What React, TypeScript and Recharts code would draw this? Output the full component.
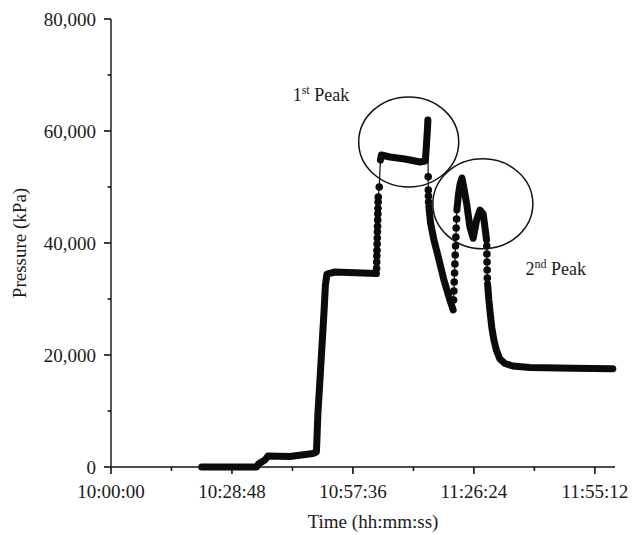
import React from 'react';
import { ComposedChart, Line, XAxis, YAxis, ReferenceDot, Label } from 'recharts';

const FONT = '"Liberation Serif", "Times New Roman", serif';
const INK = '#0b0b0b';

// time: seconds after 10:00:00, pressure: kPa
// dense (continuous) parts of the record
const riseT = [1295, 2081, 2106, 2199, 2242, 2556, 2885, 2935, 2956, 2985, 3013, 3042, 3063, 3085, 3199, 3792];
const riseP = [0, 0, 540, 1250, 1960, 1880, 2410, 2680, 9640, 15540, 21430, 27500, 32500, 34460, 34820, 34550];

const peak1T = [3849, 3863, 3985, 4199, 4413, 4491, 4506, 4520, 4527];
const peak1P = [54820, 55710, 55360, 55000, 54460, 54640, 57500, 60180, 61960];

const decayT = [4541, 4566, 4613, 4674, 4756, 4841, 4888];
const decayP = [46430, 43520, 40540, 37550, 33390, 29820, 28040];

const peak2T = [4941, 4963, 4984, 5013, 5041, 5080, 5127, 5174, 5223, 5270, 5317, 5341, 5365];
const peak2P = [45890, 48570, 50360, 51610, 49820, 47090, 42910, 40840, 44110, 45890, 45180, 42910, 40540];

const tailT = [5380, 5398, 5420, 5441, 5470, 5505, 5555, 5627, 5741, 5984, 6598, 7169];
const tailP = [32680, 29820, 27140, 24820, 22680, 20890, 19290, 18480, 18040, 17770, 17620, 17560];

// sparse (separate markers) parts of the record
const dotsAT = [3794, 3796, 3798, 3800, 3802, 3804, 3806, 3808, 3810, 3812, 3814, 3816, 3818, 3832];
const dotsAP = [35500, 36600, 37700, 38700, 39800, 40900, 42000, 43000, 44100, 45200, 46200, 47300, 48200, 50000];

const dotsBT = [4531, 4533, 4535, 4537];
const dotsBP = [51840, 49460, 48390, 47320];

const dotsCT = [4894, 4898, 4903, 4908, 4913, 4917, 4922, 4927, 4931, 4937];
const dotsCP = [29820, 31430, 33040, 34640, 36250, 37860, 39460, 41070, 42680, 44290];

const dotsDT = [5368, 5370, 5372, 5374, 5376];
const dotsDP = [39460, 38040, 36610, 35180, 33750];

const xTicks = [0, 864, 1728, 2592, 3456, 4320, 5184, 6048, 6912];
const xMajor = [0, 1728, 3456, 5184, 6912];
const xTickLabels = ['10:00:00', '10:28:48', '10:57:36', '11:26:24', '11:55:12'];

const yTicks = [0, 10000, 20000, 30000, 40000, 50000, 60000, 70000, 80000];
const yMajor = [0, 20000, 40000, 60000, 80000];
const yTickLabels = ['0', '20,000', '40,000', '60,000', '80,000'];

const rows = (ts: number[], ps: number[]) => ts.map((t, i) => ({ t, p: ps[i] }));

const riseRows = rows(riseT, riseP);
const peak1Rows = rows(peak1T, peak1P);
const decayRows = rows(decayT, decayP);
const peak2Rows = rows(peak2T, peak2P);
const tailRows = rows(tailT, tailP);
const dotsARows = rows(dotsAT, dotsAP);
const dotsBRows = rows(dotsBT, dotsBP);
const dotsCRows = rows(dotsCT, dotsCP);
const dotsDRows = rows(dotsDT, dotsDP);

const traceRows = [
  ...riseRows, ...dotsARows, ...peak1Rows, ...dotsBRows, ...decayRows,
  ...dotsCRows, ...peak2Rows, ...dotsDRows, ...tailRows,
];

const XTick = (props: any) => {
  const { x, y, payload } = props;
  const idx = xMajor.indexOf(payload.value);
  const major = idx >= 0;
  return (
    <g>
      <line x1={x} x2={x} y1={y} y2={y + (major ? 7 : 4)} stroke="#111" strokeWidth={1.6} />
      {major && (
        <text x={x} y={y + 31} textAnchor="middle" fontSize={19} fontFamily={FONT} fill="#1a1a1a">
          {xTickLabels[idx]}
        </text>
      )}
    </g>
  );
};

const YTick = (props: any) => {
  const { x, y, payload } = props;
  const idx = yMajor.indexOf(payload.value);
  const major = idx >= 0;
  return (
    <g>
      <line x1={x - (major ? 7 : 3.5)} x2={x} y1={y} y2={y} stroke="#111" strokeWidth={1.6} />
      {major && (
        <text x={x - 15} y={y + 6.5} textAnchor="end" fontSize={19} fontFamily={FONT} fill="#1a1a1a">
          {yTickLabels[idx]}
        </text>
      )}
    </g>
  );
};

const ellipseShape = (props: any) => (
  <ellipse cx={props.cx} cy={props.cy} rx={50} ry={45} fill="none" stroke="#111" strokeWidth={1.5} />
);

const peakText = (main: string, sup: string) => (props: any) => (
  <text x={props.cx} y={props.cy} textAnchor="middle" fontSize={18} fontFamily={FONT} fill="#1a1a1a">
    {main}
    <tspan dy={-7} fontSize={12}>{sup}</tspan>
    <tspan dy={7}> Peak</tspan>
  </text>
);

const dotStyle = { r: 3.8, fill: INK, stroke: 'none' };

export default function App() {
  return (
    <div style={{ position: 'absolute', left: 0, top: 0, background: '#fff' }}>
      <ComposedChart width={642} height={535} data={traceRows} margin={{ top: 19, right: 27, bottom: 0, left: 0 }}>
        <XAxis
          type="number"
          dataKey="t"
          domain={[0, 7200]}
          ticks={xTicks}
          interval={0}
          height={68}
          tick={<XTick />}
          tickLine={false}
          tickSize={0}
          tickMargin={0}
          axisLine={{ stroke: '#111', strokeWidth: 1.6 }}
        >
          <Label
            content={() => (
              <text x={373} y={528} textAnchor="middle" fontSize={19} fontFamily={FONT} fill="#1a1a1a">
                Time (hh:mm:ss)
              </text>
            )}
          />
        </XAxis>
        <YAxis
          type="number"
          dataKey="p"
          domain={[0, 80000]}
          ticks={yTicks}
          interval={0}
          width={111}
          tick={<YTick />}
          tickLine={false}
          tickSize={0}
          tickMargin={0}
          axisLine={{ stroke: '#444', strokeWidth: 1.8 }}
        >
          <Label
            content={() => (
              <text
                x={26}
                y={243}
                transform="rotate(-90 26 243)"
                textAnchor="middle"
                fontSize={19}
                fontFamily={FONT}
                fill="#1a1a1a"
              >
                Pressure (kPa)
              </text>
            )}
          />
        </YAxis>

        <Line data={traceRows} dataKey="p" type="linear" stroke={INK} strokeWidth={1.2} dot={false} activeDot={false} isAnimationActive={false} />
        {[riseRows, peak1Rows, decayRows, peak2Rows, tailRows].map((d, i) => (
          <Line
            key={'dense' + i}
            data={d}
            dataKey="p"
            type="linear"
            stroke={INK}
            strokeWidth={7}
            strokeLinejoin="round"
            strokeLinecap="round"
            dot={false}
            activeDot={false}
            isAnimationActive={false}
          />
        ))}
        {[dotsARows, dotsBRows, dotsCRows, dotsDRows].map((d, i) => (
          <Line
            key={'dots' + i}
            data={d}
            dataKey="p"
            type="linear"
            stroke="none"
            dot={dotStyle}
            activeDot={false}
            isAnimationActive={false}
          />
        ))}

        <ReferenceDot x={4253} y={58040} r={0} shape={ellipseShape} />
        <ReferenceDot x={5312} y={47000} r={0} shape={ellipseShape} />
        <ReferenceDot x={2999} y={65360} r={0} shape={peakText('1', 'st')} />
        <ReferenceDot x={6355} y={34290} r={0} shape={peakText('2', 'nd')} />
      </ComposedChart>
    </div>
  );
}
